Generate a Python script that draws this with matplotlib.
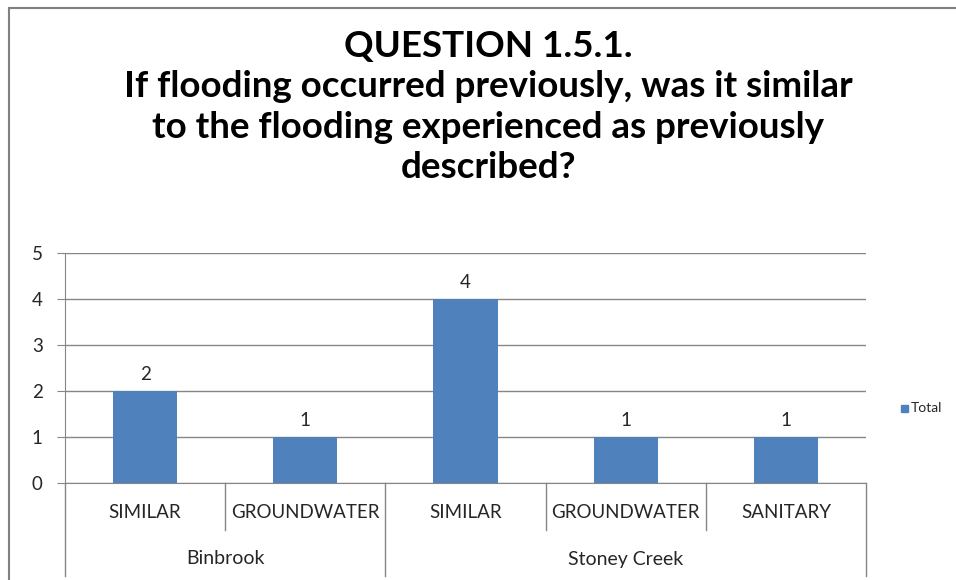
import matplotlib
matplotlib.use("Agg")
import matplotlib.pyplot as plt
from matplotlib.patches import Rectangle
import matplotlib.transforms as mtransforms

plt.rcParams['font.family'] = ['Lato', 'DejaVu Sans']

# Pivot table values
groups = ["Binbrook", "Stoney Creek"]
group_sizes = [2, 3]
categories = ["SIMILAR", "GROUNDWATER", "SIMILAR", "GROUNDWATER", "SANITARY"]
totals = [2, 1, 4, 1, 1]

title = ("QUESTION 1.5.1.\nIf flooding occurred previously, was it similar\n"
         "to the flooding experienced as previously\ndescribed?")

bar_color = "#4F81BD"
grid_color = "#868686"
text_color = "#262626"

fig = plt.figure(figsize=(9.56, 5.8), dpi=100)
W, H = 956, 580

# chart area border
fig.patches.append(Rectangle((9 / W, 0 - 0.05), 1.1, 1 - 8 / H + 0.05,
                             transform=fig.transFigure, fill=False,
                             edgecolor="#808080", linewidth=1.5))

ax = fig.add_axes([65 / W, 1 - 483 / H, (866 - 65) / W, (483 - 253) / H])
x = list(range(len(totals)))
bars = ax.bar(x, totals, width=0.4, color=bar_color, zorder=3)
for b, v in zip(bars, totals):
    ax.text(b.get_x() + b.get_width() / 2, v + 0.18, str(v), ha="center", va="bottom",
            fontsize=13.5, color=text_color)

ax.set_xlim(-0.5, len(totals) - 0.5)
ax.set_ylim(0, 5)
ax.set_yticks(range(0, 6))
ax.tick_params(axis="y", labelsize=13.5, colors=grid_color, labelcolor=text_color,
               length=6, pad=10)
ax.grid(axis="y", color=grid_color, linewidth=1, zorder=0)
for side in ["top", "right"]:
    ax.spines[side].set_visible(False)
ax.spines["left"].set_color(grid_color)
ax.spines["bottom"].set_color(grid_color)
ax.set_xticks([])

# two-level category axis
trans = mtransforms.blended_transform_factory(ax.transData, ax.transAxes)
inner_y = -(530 - 483) / 230
outer_y = -(576 - 483) / 230
for i, name in enumerate(categories):
    ax.text(i, -(513 - 483) / 230, name, transform=trans, ha="center", va="center",
            fontsize=13.5, color=text_color)
start = 0
bounds = [-0.5]
for g, n in zip(groups, group_sizes):
    mid = start + (n - 1) / 2
    ax.text(mid, -(559 - 483) / 230, g, transform=trans, ha="center", va="center",
            fontsize=14, color=text_color)
    for k in range(1, n):
        ax.plot([start + k - 0.5] * 2, [0, inner_y], transform=trans,
                color=grid_color, linewidth=1, clip_on=False)
    start += n
    bounds.append(start - 0.5)
for bx in bounds:
    ax.plot([bx, bx], [0, outer_y], transform=trans, color=grid_color,
            linewidth=1, clip_on=False)

# legend
fig.patches.append(Rectangle((901 / W, 1 - 412 / H), 7 / W, 7 / H,
                             transform=fig.transFigure, color=bar_color))
fig.text(911 / W, 1 - 408 / H, "Total", fontsize=10, va="center", ha="left",
         color=text_color)

fig.text(488 / W, 1 - 107 / H, title, ha="center", va="center", fontsize=26.5,
         fontweight="bold", linespacing=1.26, color="black")

fig.savefig("out.png", dpi=100, facecolor="white")
